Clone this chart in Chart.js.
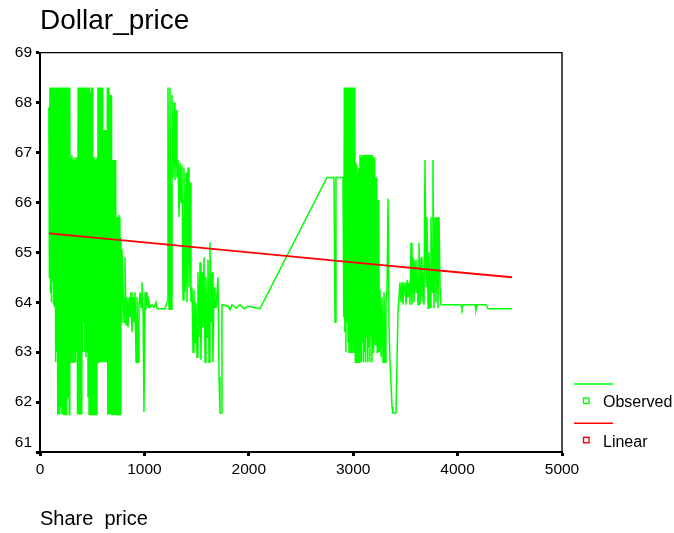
<!DOCTYPE html>
<html>
<head>
<meta charset="utf-8">
<script src="https://cdn.jsdelivr.net/npm/chart.js@4.4.1/dist/chart.umd.min.js"></script>
<style>
  html, body { margin: 0; padding: 0; background: #ffffff; }
  canvas { display: block; }
</style>
</head>
<body>
<canvas id="c" width="674" height="533"></canvas>
<script>
// ---------- data ----------
const chartTitle = 'Dollar_price';
const xAxisTitle = 'Share  price';
const seriesLabels = ['Observed', 'Linear'];
const xTicks = [0, 1000, 2000, 3000, 4000, 5000];
const yTicks = [61, 62, 63, 64, 65, 66, 67, 68, 69];

const observedX = [
  85, 90, 95, 100, 105, 110, 115, 120, 125, 130, 135, 140, 145, 150, 155, 160, 165, 170, 175, 180,
  185, 190, 195, 200, 205, 210, 215, 220, 225, 230, 235, 240, 245, 250, 255, 260, 265, 270, 275, 280,
  285, 290, 295, 300, 305, 310, 315, 320, 325, 330, 335, 340, 345, 350, 355, 360, 365, 370, 375, 380,
  385, 390, 395, 400, 405, 410, 415, 420, 425, 430, 435, 440, 445, 450, 455, 460, 465, 470, 475, 480,
  485, 490, 495, 500, 505, 510, 515, 520, 525, 530, 535, 540, 545, 550, 555, 560, 565, 570, 575, 580,
  585, 590, 595, 600, 605, 610, 615, 620, 625, 630, 635, 640, 645, 650, 655, 660, 665, 670, 675, 680,
  685, 690, 695, 700, 705, 710, 715, 720, 725, 730, 735, 740, 745, 750, 755, 760, 765, 770, 775, 780, 785,
  805, 814, 824, 833, 843, 853, 862, 872, 881, 891, 900, 910, 920, 929, 939, 948, 958, 968, 977,
  987, 996, 1006, 1015, 1025, 1035, 1044, 1054, 1073, 1092, 1111, 1121, 1197,
  1217, 1226, 1236, 1245, 1255, 1264, 1274, 1284, 1293, 1303, 1312, 1322, 1332, 1341, 1351, 1360, 1370,
  1379, 1389, 1399, 1408, 1418, 1427, 1437, 1446, 1456, 1466, 1475, 1485, 1494, 1504, 1513, 1523, 1533,
  1542, 1552, 1561, 1571, 1581, 1590, 1600, 1609, 1619, 1628, 1638, 1648, 1657, 1667, 1676, 1686, 1705,
  1715, 1724, 1734, 1743, 1801, 1820, 1839, 1877, 1916, 1954, 1992, 2107,
  2749, 2816, 2826, 2835, 2902,
  2910, 2915, 2920, 2925, 2930, 2935, 2940, 2945, 2950, 2955, 2960, 2965, 2970, 2975, 2980, 2985, 2990,
  2995, 3000, 3005, 3010, 3015, 3020, 3025, 3030, 3035, 3040, 3045, 3050, 3055, 3060, 3065, 3070, 3075,
  3080, 3085, 3090, 3095, 3100, 3105, 3110, 3115, 3120, 3125, 3130, 3135, 3140, 3145, 3150, 3155, 3160,
  3165, 3170, 3175, 3180, 3185, 3190, 3195, 3200, 3205, 3210, 3215, 3220, 3225, 3230, 3235, 3240, 3245,
  3250, 3257, 3267, 3276, 3286, 3295, 3305, 3314, 3324, 3334, 3343, 3353, 3372, 3381, 3410, 3429, 3448,
  3458, 3468, 3477, 3487, 3496, 3506, 3516, 3525, 3535, 3544, 3554, 3563, 3573, 3583, 3592, 3602, 3611,
  3621, 3630, 3640, 3650, 3659, 3669, 3678, 3688, 3698, 3707, 3717, 3726, 3736, 3745, 3755, 3764, 3774,
  3784, 3793, 3803, 3812, 3822, 3832, 3841, 4033, 4042, 4052, 4167, 4176, 4186, 4272, 4291, 4521
];
const observedY = [
  67.9, 64.5, 68.3, 64.2, 68.3, 64.0, 68.3, 64.4, 68.3, 63.95, 68.2, 63.9, 68.3, 62.8, 68.3, 63.0, 68.3, 61.75, 68.3, 61.75,
  68.2, 61.75, 68.3, 61.9, 68.3, 61.75, 68.3, 61.75, 68.1, 61.75, 68.3, 62.0, 68.3, 61.75, 68.3, 62.1, 68.3, 62.1, 68.3, 61.75,
  68.3, 63.0, 66.9, 62.8, 66.95, 63.0, 66.85, 62.8, 66.9, 63.05, 66.85, 62.8, 66.9, 63.0, 65.8, 61.75, 68.3, 61.75, 68.3, 61.75,
  68.3, 61.75, 68.15, 61.75, 68.3, 63.0, 68.15, 63.6, 68.3, 63.0, 68.3, 62.9, 68.15, 63.0, 68.3, 62.1, 68.3, 61.75, 68.3, 61.75,
  68.2, 61.75, 68.3, 61.75, 68.3, 61.75, 66.9, 61.75, 66.9, 61.75, 66.85, 61.75, 66.9, 62.8, 68.3, 62.8, 68.3, 62.8, 68.3, 62.8,
  68.3, 62.8, 68.3, 62.8, 67.45, 62.8, 67.45, 62.8, 67.45, 62.8, 67.4, 62.8, 68.3, 61.75, 68.3, 61.75, 68.15, 61.75, 68.15, 61.75,
  68.15, 61.75, 66.85, 61.75, 66.85, 61.75, 66.85, 61.75, 66.85, 61.75, 65.7, 61.75, 65.7, 61.75, 65.75, 61.75, 65.7, 61.75, 65.3, 63.6, 65.05,
  63.6, 64.9, 63.55, 64.1, 63.5, 64.1, 63.7, 64.2, 63.4, 64.1, 63.6, 64.2, 62.8, 64.1, 62.8, 63.9, 64.2, 63.9, 64.4,
  63.9, 61.8, 64.2, 63.85, 64.2, 63.9, 64.0, 63.9, 63.95, 63.9, 64.0, 63.87, 63.87,
  64.0, 68.3, 63.86, 68.3, 63.86, 68.15, 66.5, 68.0, 66.45, 67.85, 66.5, 66.85, 65.7, 66.8, 66.0, 66.75, 64.05,
  66.7, 64.2, 66.6, 64.0, 66.7, 64.3, 66.4, 64.0, 64.3, 63.0, 64.25, 63.2, 64.0, 62.9, 64.6, 63.3, 64.8,
  62.85, 64.6, 63.5, 64.9, 62.8, 64.5, 63.3, 64.85, 62.8, 65.2, 63.6, 64.6, 62.8, 64.3, 63.9, 63.9, 64.5,
  62.5, 61.78, 61.78, 63.95, 63.92, 63.85, 63.95, 63.88, 63.95, 63.87, 63.92, 63.87,
  66.5, 66.5, 63.6, 66.5, 66.5,
  63.7, 68.3, 63.4, 68.3, 63.0, 68.3, 63.6, 68.3, 63.2, 68.3, 63.0, 68.3, 63.5, 68.3, 63.0, 68.3, 63.4,
  68.3, 63.0, 68.3, 63.3, 68.3, 62.8, 66.8, 63.2, 66.75, 62.8, 66.6, 63.1, 66.7, 62.8, 66.95, 63.3, 66.9,
  62.8, 66.95, 63.2, 66.9, 62.8, 66.95, 63.0, 66.7, 62.8, 66.95, 63.3, 66.9, 62.8, 66.95, 63.1, 66.9, 62.8,
  66.95, 63.3, 66.9, 62.8, 66.95, 63.0, 66.9, 63.2, 66.9, 63.15, 66.5, 63.15, 66.5, 63.0, 66.05, 63.15, 66.05,
  63.0, 64.25, 62.9, 64.1, 62.8, 64.2, 62.8, 64.0, 64.25, 66.07, 63.5, 62.8, 61.9, 61.78, 61.78, 63.8, 64.4,
  64.0, 64.4, 63.95, 64.3, 64.4, 63.95, 64.45, 64.1, 64.4, 63.95, 65.19, 63.95, 64.9, 64.0, 64.85, 64.2, 64.85,
  63.95, 65.19, 63.95, 64.9, 64.0, 64.6, 63.95, 66.85, 64.3, 65.7, 63.88, 65.0, 63.9, 65.7, 64.2, 66.85, 63.88,
  65.7, 64.0, 65.7, 63.88, 65.7, 64.3, 63.95, 63.95, 63.87, 63.95, 63.95, 63.85, 63.95, 63.95, 63.87, 63.87
];

const linearX = [86, 1000, 2000, 3000, 4000, 4521];
const linearY = [65.38, 65.2, 65.0, 64.8, 64.6, 64.5];

// ---------- chart ----------
const FONT = 'Liberation Sans, Arial, sans-serif';
const observedPts = observedX.map((x, i) => ({ x: x, y: observedY[i] }));
const linearPts = linearX.map((x, i) => ({ x: x, y: linearY[i] }));

const frameAndKey = {
  id: 'frameAndKey',
  afterDraw(chart) {
    const { ctx, chartArea: a } = chart;
    ctx.save();
    ctx.strokeStyle = '#000000';
    ctx.lineWidth = 1.4;
    ctx.beginPath();
    ctx.moveTo(a.left, a.top);
    ctx.lineTo(a.right, a.top);
    ctx.lineTo(a.right, a.bottom);
    ctx.stroke();

    // legend (SPSS style: line above, small square beside label)
    const lx0 = a.right + 12, lx1 = a.right + 51;
    chart.data.datasets.forEach((ds, i) => {
      const yl = a.bottom - 68 + i * 39.3;
      ctx.strokeStyle = ds.borderColor;
      ctx.lineWidth = 1.5;
      ctx.beginPath();
      ctx.moveTo(lx0, yl);
      ctx.lineTo(lx1, yl);
      ctx.stroke();
      ctx.lineWidth = 1.4;
      ctx.strokeRect(a.right + 21.5, yl + 14, 5.5, 5.5);
      ctx.fillStyle = '#000000';
      ctx.font = '16px ' + FONT;
      ctx.textAlign = 'left';
      ctx.textBaseline = 'middle';
      ctx.fillText(ds.label, a.right + 41, yl + 19);
    });
    ctx.restore();
  }
};

new Chart(document.getElementById('c'), {
  type: 'line',
  data: {
    datasets: [
      {
        label: seriesLabels[0],
        data: observedPts,
        borderColor: '#00ff00',
        backgroundColor: '#00ff00',
        borderWidth: 1.5,
        pointRadius: 0,
        tension: 0,
        fill: false,
        order: 2
      },
      {
        label: seriesLabels[1],
        data: linearPts,
        borderColor: '#ff0000',
        backgroundColor: '#ff0000',
        borderWidth: 1.8,
        pointRadius: 0,
        tension: 0,
        fill: false,
        order: 1
      }
    ]
  },
  options: {
    responsive: false,
    animation: false,
    devicePixelRatio: 1,
    layout: { padding: { left: 0, right: 112, top: 0, bottom: 0 } },
    plugins: {
      legend: { display: false },
      tooltip: { enabled: false },
      title: {
        display: true,
        text: chartTitle,
        align: 'start',
        fullSize: false,
        color: '#000000',
        font: { family: FONT, size: 28, weight: 'normal', lineHeight: 1.2 },
        padding: { top: 4, bottom: 15 }
      }
    },
    scales: {
      x: {
        type: 'linear',
        min: 0,
        max: 5000,
        afterBuildTicks: s => { s.ticks = xTicks.map(v => ({ value: v })); },
        afterFit: s => { s.height = 81; },
        ticks: {
          color: '#000000',
          font: { family: FONT, size: 15.5 },
          padding: 4,
          maxRotation: 0,
          autoSkip: false,
          callback: v => String(v)
        },
        grid: {
          display: true,
          drawOnChartArea: false,
          drawTicks: true,
          tickLength: 4,
          tickWidth: 3,
          tickColor: '#000000'
        },
        border: { display: true, color: '#000000', width: 2 },
        title: {
          display: true,
          text: xAxisTitle,
          align: 'start',
          color: '#000000',
          font: { family: FONT, size: 20, lineHeight: 1.2 },
          padding: { top: 0, bottom: 2 }
        }
      },
      y: {
        type: 'linear',
        min: 61,
        max: 69,
        afterBuildTicks: s => { s.ticks = yTicks.map(v => ({ value: v })); },
        afterFit: s => { s.width = 40; },
        ticks: {
          color: '#000000',
          font: { family: FONT, size: 15.5 },
          padding: 4,
          callback: v => (v === yTicks[0] ? [String(v), ''] : String(v))
        },
        grid: {
          display: true,
          drawOnChartArea: false,
          drawTicks: true,
          tickLength: 4,
          tickWidth: 3,
          tickColor: '#000000'
        },
        border: { display: true, color: '#000000', width: 2 }
      }
    }
  },
  plugins: [frameAndKey]
});
</script>
</body>
</html>
